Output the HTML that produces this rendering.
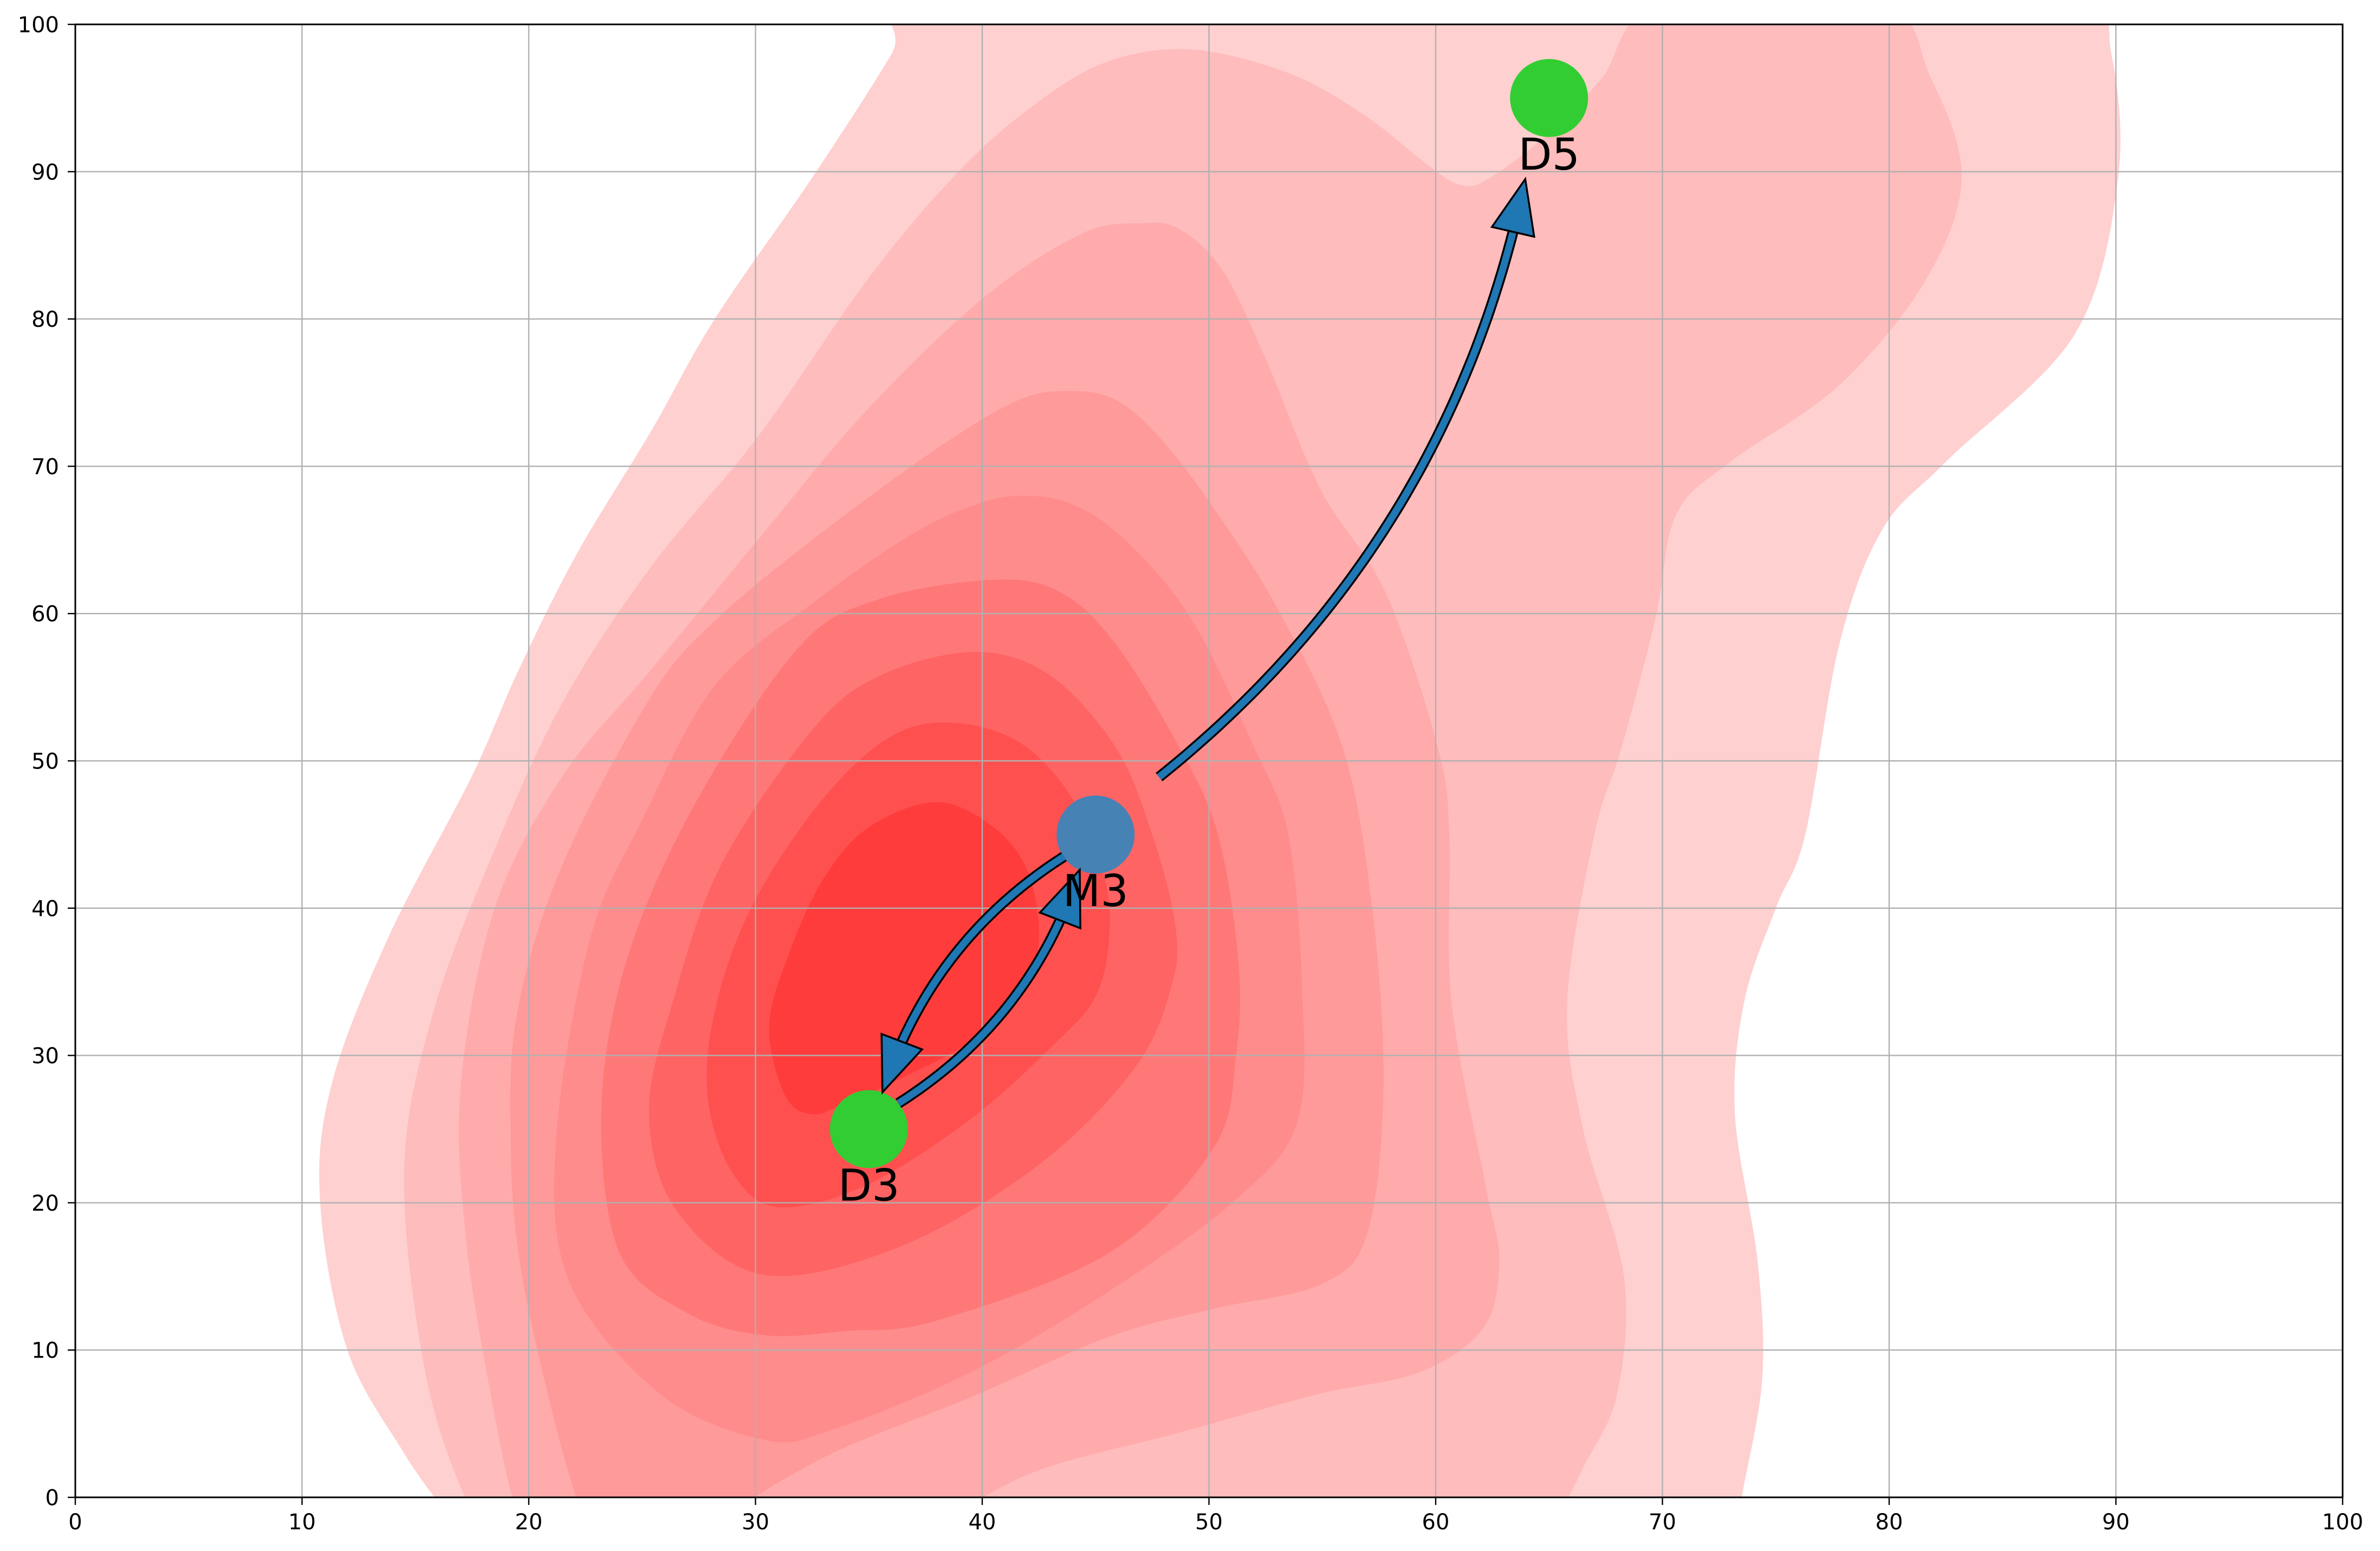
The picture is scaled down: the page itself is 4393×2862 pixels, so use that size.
<!DOCTYPE html>
<html><head><meta charset="utf-8"><style>
html,body{margin:0;padding:0;background:#fff;width:4393px;height:2862px;overflow:hidden;}
svg{display:block;font-family:"DejaVu Sans","Liberation Sans",sans-serif;}
</style></head><body>
<svg id="chart" width="4393" height="2862" viewBox="0 0 4393 2862" xmlns="http://www.w3.org/2000/svg">
<defs><clipPath id="plotclip"><rect x="139" y="45" width="4185" height="2718"/></clipPath></defs>
<rect x="0" y="0" width="4393" height="2862" fill="#fff"/>
<g id="contours" clip-path="url(#plotclip)"></g>
<g id="grid"></g>
<g id="markers"></g>
<g id="arrows"></g>
<g id="labels"></g>
<rect x="139" y="45" width="4185" height="2718" fill="none" stroke="#000" stroke-width="3"/>
<g id="ticks"></g>
</svg>
<script>
const xTicks=[0,10,20,30,40,50,60,70,80,90,100];
const yTicks=[0,10,20,30,40,50,60,70,80,90,100];
const levelColors=["#ffd0d0","#ffbcbc","#ffabab","#ff9a9a","#ff8c8c","#ff7878","#ff6464","#ff5050","#ff3c3c"];
const level1=[[17,-3],[16.3,-1],[14.5,3],[12,10],[10.8,20],[11.3,28],[13.8,38],[17.5,49],[19.5,56],[22.1,64],[25.4,72.4],[28.2,80],[32.5,89.6],[36,98],[37,101.5],[50,101.5],[80,101.5],[88.5,101.5],[89.8,98],[90.1,89.6],[88.2,79],[82.5,70.3],[79.7,65.7],[77.8,57.9],[76.3,45],[75,40],[73.6,33.6],[73.2,26],[74.2,16],[74.4,8],[73.5,0],[73.3,-3],[60,-3],[30,-3]];
const level2=[[19,-3],[17.5,-1],[15.5,8],[14.5,22],[15.8,33],[18.5,44],[21.5,54],[25.4,63.2],[30.1,72],[34.9,82.6],[38.7,89.6],[42,94.2],[45.4,97.4],[49.2,98.3],[53.5,96.7],[56.8,93.9],[59.7,90.4],[61.1,89.1],[62.3,89.5],[64.9,92.5],[67.3,96.3],[70,101.5],[79.5,101.5],[81.8,96.5],[83.2,89.6],[81.6,82.6],[77.8,75.5],[73,70.3],[70.6,66.7],[69.7,59.7],[68.2,50.9],[67,45],[65.8,33.6],[66.5,25],[68.3,15],[68,7],[66.5,2],[65.5,-1],[64.5,-3],[50,-3],[30,-3]];
const level3=[[21,-3],[19.5,-1],[18.2,8],[17.2,18],[17,28],[18.5,40],[21.5,49],[25.4,56.2],[30.1,65],[34.9,73.8],[40.1,81.5],[44.4,85.8],[47,86.5],[48.7,86.1],[50.6,83.3],[52.5,77.3],[54.9,68.5],[57.8,61.4],[60.1,50.9],[60.6,45],[60.7,33.6],[62.2,21.2],[62.8,16.1],[62.1,11.5],[59.3,8.5],[54.8,7],[48.7,4.4],[42.6,1.9],[39,-1],[37.5,-3],[30,-3]];
const level4=[[23,-3],[22.3,-1],[21,6],[19.6,16],[19.2,24.2],[19.5,33],[21.5,43],[25.4,54.4],[28.2,59.5],[32.5,65],[37.8,71],[41.6,74.5],[44,75.1],[45.9,74.5],[47.8,72],[50.1,67.4],[53,60.4],[55.9,50.9],[57.2,40],[57.7,28],[57,18],[55,14.5],[50.2,12.8],[45.6,10.9],[39.5,6.8],[33.4,3],[29,-1],[28,-3],[25,-3]];
const level5=[[21.8,14.6],[21.2,24.2],[22.7,37.9],[25,46],[28.2,55.1],[32.5,60.7],[36.8,65.3],[39.7,67.4],[41.8,68],[44,67.4],[46.3,65],[49.2,59.7],[52,50.9],[53.5,45],[54.1,34.9],[53.9,25.5],[51.1,20.1],[45.6,14],[39.5,8.5],[33.4,4.6],[30.4,3.9],[25.8,7]];
const level6=[[40.6,62.3],[43.5,61.4],[45.9,57.9],[48.7,50.9],[50.4,45],[51.3,36.4],[51.2,30],[50.2,23.7],[45.6,16.6],[38,12],[34,11.3],[30.4,11],[27,12.5],[24,16.6],[23.2,26.2],[24.3,36.4],[27.3,47],[31.9,57.7],[35.5,61]];
const level7=[[39.7,57.4],[43,55.8],[45.9,50.9],[47.5,45],[48.5,39],[48.4,35],[46.8,29.3],[42.6,22.7],[36.5,17.1],[30.4,15.1],[26.5,19.5],[25.3,26.2],[26.4,33.9],[28.5,43],[32.5,52.1],[35.5,55.8]];
const level8=[[38.5,52.6],[41.6,51.3],[44,47.4],[45.4,42],[45.6,38],[45,34],[43.2,30.8],[39.5,25.7],[34.9,21.2],[31,19.7],[29,22],[27.9,27],[28.2,33],[29.8,40],[32.8,47.1],[35.8,51.5]];
const level9=[[38,47.2],[40.5,45.5],[42,42.5],[42.5,38],[41.8,34.5],[39.5,31],[36.5,28.5],[34,26.8],[32.5,26],[31.3,27.3],[30.6,32],[31.5,37],[33,42],[35,45.5]];
const pointNames=["D3","M3","D5"];
const pointX=[35,45,65];
const pointY=[25,45,95];
const pointColors=["#32cd32","#4682b4","#32cd32"];
const arrowFromX=[47.8,43.6,36.3];
const arrowFromY=[48.9,43.5,26.75];
const arrowToX=[63.95,35.6,44.3];
const arrowToY=[89.5,27.5,42.6];

const NS="http://www.w3.org/2000/svg";
const X0=139,X1=4324,Y0=45,Y1=2763;
function sx(v){return X0+v/100*(X1-X0);}
function sy(v){return Y1-v/100*(Y1-Y0);}
function mk(tag,attrs,parent){const e=document.createElementNS(NS,tag);for(const k in attrs)e.setAttribute(k,attrs[k]);parent.appendChild(e);return e;}

function smoothPath(pts){
  const p=pts.map(d=>[sx(d[0]),sy(d[1])]);const n=p.length;
  let s="M"+p[0][0].toFixed(1)+","+p[0][1].toFixed(1);
  for(let i=0;i<n;i++){
    const p0=p[(i-1+n)%n],p1=p[i],p2=p[(i+1)%n],p3=p[(i+2)%n];
    const c1=[p1[0]+(p2[0]-p0[0])/6,p1[1]+(p2[1]-p0[1])/6];
    const c2=[p2[0]-(p3[0]-p1[0])/6,p2[1]-(p3[1]-p1[1])/6];
    s+="C"+c1[0].toFixed(1)+","+c1[1].toFixed(1)+" "+c2[0].toFixed(1)+","+c2[1].toFixed(1)+" "+p2[0].toFixed(1)+","+p2[1].toFixed(1);
  }
  return s+"Z";
}
const levels=[level1,level2,level3,level4,level5,level6,level7,level8,level9];
const cg=document.getElementById("contours");
levels.forEach((lv,i)=>{
  const el=mk("path",{d:smoothPath(lv),fill:levelColors[i]},cg);
  
  
});

const gg=document.getElementById("grid");
xTicks.forEach(v=>{
  const l=mk("line",{x1:sx(v),x2:sx(v),y1:Y0,y2:Y1,stroke:"#b0b0b0","stroke-width":2.4},gg);
  
  
});
yTicks.forEach(v=>{
  const l=mk("line",{x1:X0,x2:X1,y1:sy(v),y2:sy(v),stroke:"#b0b0b0","stroke-width":2.4},gg);
  
  
});

const tg=document.getElementById("ticks");
xTicks.forEach(v=>{
  const l=mk("line",{x1:sx(v),x2:sx(v),y1:Y1,y2:Y1+14,stroke:"#000","stroke-width":2.4},tg);
  
  
  const t=mk("text",{x:sx(v),y:2822,"font-size":40,"text-anchor":"middle",fill:"#000"},tg);
  t.textContent=String(v);
  
  
});
yTicks.forEach(v=>{
  const l=mk("line",{x1:X0-14,x2:X0,y1:sy(v),y2:sy(v),stroke:"#000","stroke-width":2.4},tg);
  
  
  const t=mk("text",{x:109,y:sy(v)+14.5,"font-size":40,"text-anchor":"end",fill:"#000"},tg);
  t.textContent=String(v);
  
  
});

const mg=document.getElementById("markers");
const lg=document.getElementById("labels");
pointNames.forEach((nm,i)=>{
  const c=mk("circle",{cx:sx(pointX[i]),cy:sy(pointY[i]),r:72,fill:pointColors[i]},mg);
  
  
  const t=mk("text",{x:sx(pointX[i]),y:sy(pointY[i])+132,"font-size":81,"text-anchor":"middle",fill:"#000"},lg);
  t.textContent=nm;
  
  
});

const ag=document.getElementById("arrows");
const rad=0.18,headLen=100,headHalf=40;
arrowFromX.forEach((fx,i)=>{
  const P0=[sx(fx),sy(arrowFromY[i])],P2=[sx(arrowToX[i]),sy(arrowToY[i])];
  const dx=P2[0]-P0[0],dy=P2[1]-P0[1];
  const C=[(P0[0]+P2[0])/2-rad*dy,(P0[1]+P2[1])/2+rad*dx];
  const B=t=>[(1-t)*(1-t)*P0[0]+2*(1-t)*t*C[0]+t*t*P2[0],(1-t)*(1-t)*P0[1]+2*(1-t)*t*C[1]+t*t*P2[1]];
  let tEnd=1;
  for(let t=1;t>0;t-=0.002){const b=B(t);if(Math.hypot(b[0]-P2[0],b[1]-P2[1])>=headLen-4){tEnd=t;break;}}
  let pts=[];for(let k=0;k<=60;k++){const b=B(tEnd*k/60);pts.push(b[0].toFixed(1)+","+b[1].toFixed(1));}
  const d="M"+pts.join(" L");
  const o=mk("path",{d:d,fill:"none",stroke:"#000","stroke-width":20,"stroke-linecap":"butt"},ag);
  
  
  const s=mk("path",{d:d,fill:"none",stroke:"#1f77b4","stroke-width":13,"stroke-linecap":"butt"},ag);
  
  
  const be=B(tEnd);let ux=P2[0]-be[0],uy=P2[1]-be[1];const L=Math.hypot(ux,uy);ux/=L;uy/=L;
  const bc=[P2[0]-ux*headLen,P2[1]-uy*headLen];
  const h=mk("polygon",{points:[P2,[bc[0]-uy*headHalf,bc[1]+ux*headHalf],[bc[0]+uy*headHalf,bc[1]-ux*headHalf]].map(p=>p[0].toFixed(1)+","+p[1].toFixed(1)).join(" "),fill:"#1f77b4",stroke:"#000","stroke-width":3.5,"stroke-linejoin":"miter"},ag);
  
  
});
</script>
</body></html>
